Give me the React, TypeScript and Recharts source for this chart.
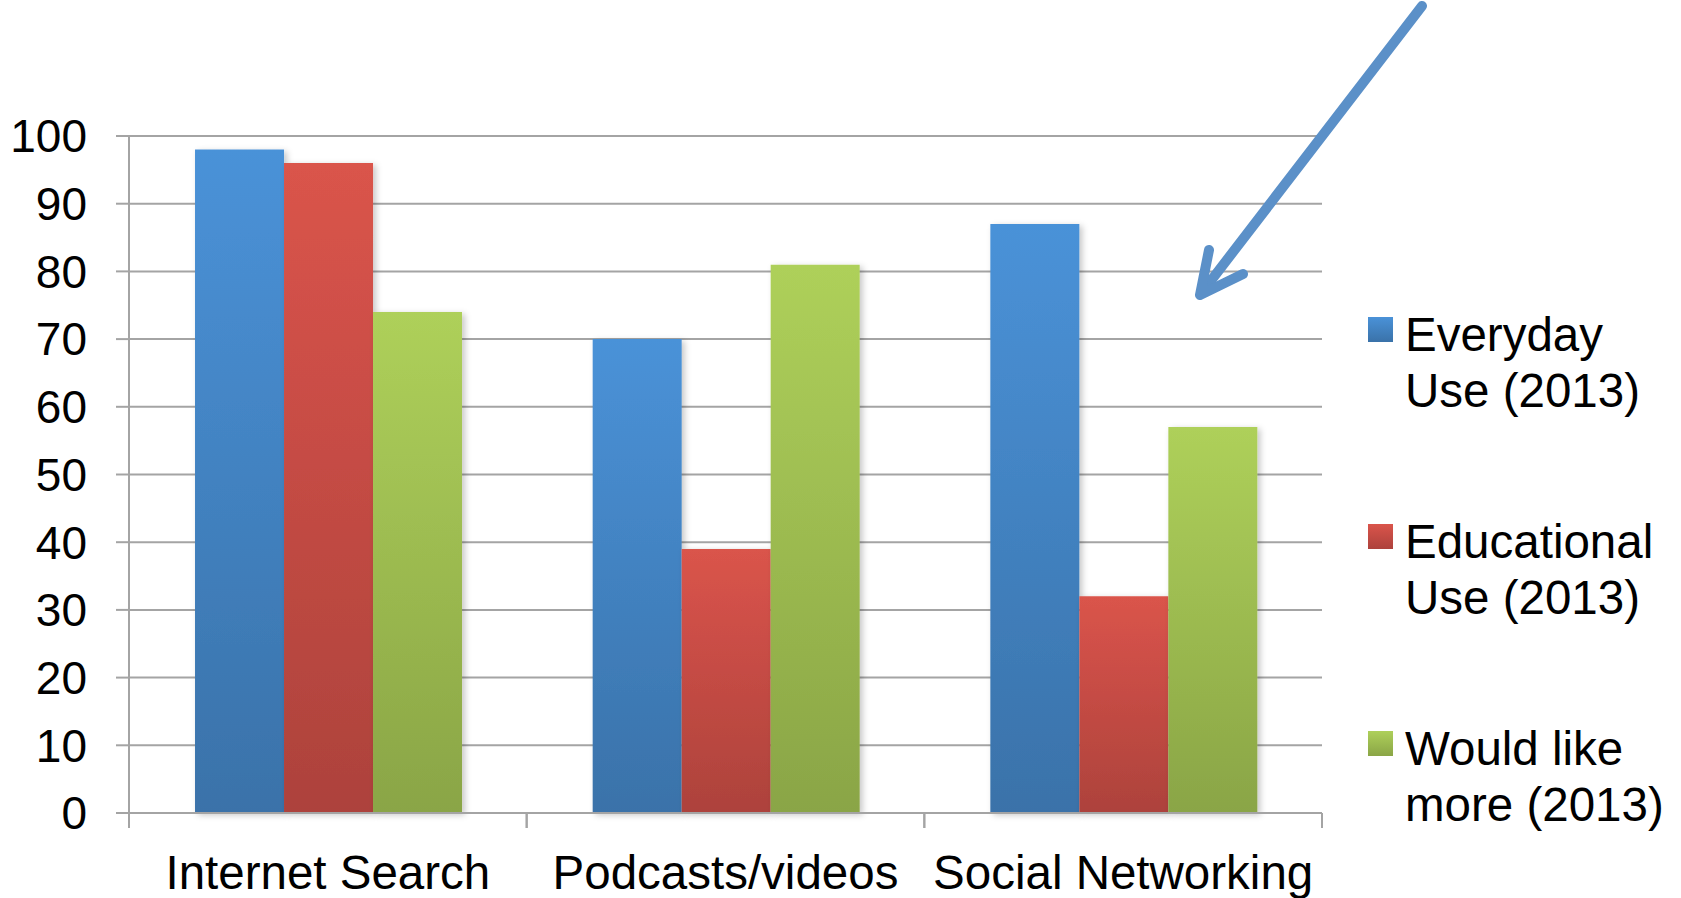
import { BarChart, Bar, XAxis, YAxis, CartesianGrid, Legend } from "recharts";

// chart values
const categories = ["Internet Search", "Podcasts/videos", "Social Networking"];
const everydayUse = [98, 70, 87];
const educationalUse = [96, 39, 32];
const wouldLikeMore = [74, 81, 57];
const yTicks = [0, 10, 20, 30, 40, 50, 60, 70, 80, 90, 100];

const series = [
  { key: "everyday", name: "Everyday Use (2013)", lines: ["Everyday", "Use (2013)"], top: "#4a92d8", bottom: "#3a72a9" },
  { key: "educational", name: "Educational Use (2013)", lines: ["Educational", "Use (2013)"], top: "#da544b", bottom: "#ad423c" },
  { key: "more", name: "Would like more (2013)", lines: ["Would like", "more (2013)"], top: "#aed05a", bottom: "#8aa546" },
];

const data = categories.map((name, i) => ({
  name,
  everyday: everydayUse[i],
  educational: educationalUse[i],
  more: wouldLikeMore[i],
}));

const FONT = '"Liberation Sans", Arial, sans-serif';
const GRID = "#a4a4a4";
const X_TICK_SIZE = 15;
const X_TICK_MARGIN = 27;

function CategoryTick(props: any) {
  const { x, y, payload, width, visibleTicksCount } = props;
  const half = payload?.offset || width / (visibleTicksCount || 3) / 2;
  const axisY = y - X_TICK_SIZE - X_TICK_MARGIN;
  return (
    <g>
      <line x1={x - half} x2={x - half} y1={axisY} y2={axisY + X_TICK_SIZE} stroke={GRID} strokeWidth={2} />
      <line x1={x + half} x2={x + half} y1={axisY} y2={axisY + X_TICK_SIZE} stroke={GRID} strokeWidth={2} />
      <text x={x} y={y} dy="0.71em" textAnchor="middle" fill="#000" fontSize={47.5} fontFamily={FONT}>
        {payload.value}
      </text>
    </g>
  );
}

function SideLegend() {
  return (
    <div style={{ fontFamily: FONT, fontSize: 47.5, lineHeight: "56px", color: "#000" }}>
      {series.map((s) => (
        <div key={s.key} style={{ position: "relative", paddingLeft: 37, height: 112, marginBottom: 95 }}>
          <div
            style={{
              position: "absolute",
              left: 0,
              top: 10,
              width: 25,
              height: 25,
              background: `linear-gradient(${s.top}, ${s.bottom})`,
            }}
          />
          {s.lines.map((l) => (
            <div key={l} style={{ whiteSpace: "nowrap" }}>{l}</div>
          ))}
        </div>
      ))}
    </div>
  );
}

export default function App() {
  return (
    <div style={{ position: "absolute", left: 0, top: 0, width: 1681, height: 898, background: "#fff" }}>
      <BarChart
        width={1681}
        height={898}
        data={data}
        margin={{ top: 136, right: 359, bottom: 0, left: 0 }}
        barCategoryGap="16.6%"
        barGap={0}
      >
        <defs>
          {series.map((s) => (
            <linearGradient key={s.key} id={`grad-${s.key}`} x1="0" y1="0" x2="0" y2="1">
              <stop offset="0%" stopColor={s.top} />
              <stop offset="100%" stopColor={s.bottom} />
            </linearGradient>
          ))}
          <filter id="barShadow" x="-10%" y="-5%" width="130%" height="115%">
            <feDropShadow dx="3" dy="2" stdDeviation="3" floodColor="#000" floodOpacity="0.22" />
          </filter>
        </defs>
        <CartesianGrid vertical={false} stroke={GRID} strokeWidth={2} />
        <XAxis
          dataKey="name"
          height={85}
          axisLine={{ stroke: GRID, strokeWidth: 2 }}
          tickLine={false}
          tickSize={X_TICK_SIZE}
          tickMargin={X_TICK_MARGIN}
          interval={0}
          tick={<CategoryTick />}
        />
        <YAxis
          width={129}
          domain={[0, 100]}
          ticks={yTicks}
          interval={0}
          axisLine={{ stroke: GRID, strokeWidth: 2 }}
          tickLine={{ stroke: GRID, strokeWidth: 2 }}
          tickSize={13}
          tickMargin={29}
          tick={{ fill: "#000", fontSize: 46, fontFamily: FONT }}
        />
        <Legend
          layout="horizontal"
          align="center"
          verticalAlign="middle"
          content={() => <SideLegend />}
          wrapperStyle={{ position: "absolute", left: 1368, top: 307, width: 313, height: 560 }}
        />
        {series.map((s) => (
          <Bar
            key={s.key}
            dataKey={s.key}
            name={s.name}
            fill={`url(#grad-${s.key})`}
            filter="url(#barShadow)"
            isAnimationActive={false}
          />
        ))}
      </BarChart>
      {/* annotation arrow pointing at the gap in the chart */}
      <svg
        width={1681}
        height={898}
        style={{ position: "absolute", left: 0, top: 0, pointerEvents: "none" }}
      >
        <g stroke="#5b90c8" strokeWidth={10} strokeLinecap="round" strokeLinejoin="round" fill="none">
          <line x1={1422} y1={6} x2={1203} y2={291} />
          <polyline points="1209,250 1200,295 1243,274" />
        </g>
      </svg>
    </div>
  );
}
